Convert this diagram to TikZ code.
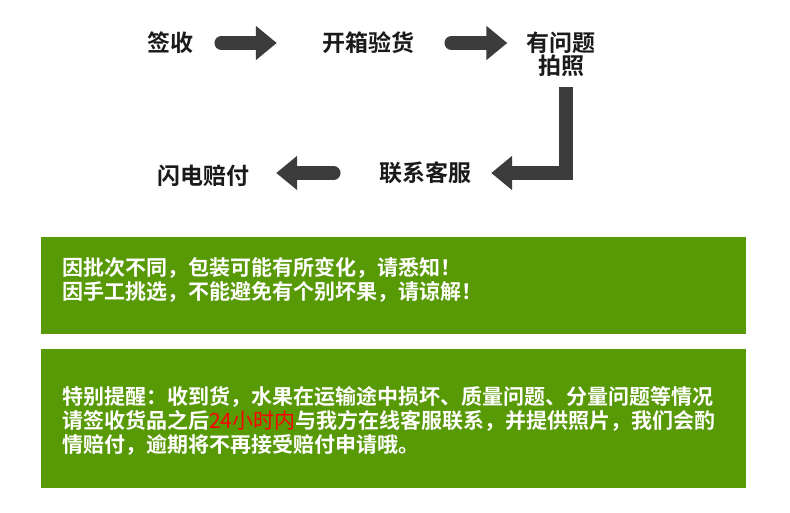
\documentclass[tikz,border=0pt]{standalone}
\usepackage{fontspec}
\newfontfamily\cjk{Noto Sans CJK SC}[BoldFont={Noto Sans CJK SC Bold}]
\usetikzlibrary{arrows.meta}
\definecolor{leafgreen}{RGB}{88,153,6}
\definecolor{arrowgray}{RGB}{60,60,60}
\definecolor{labelblack}{RGB}{26,26,26}

\begin{document}
\begin{tikzpicture}[x=1pt, y=-1pt,
    flowtext/.style={inner sep=0pt, text=labelblack, align=center,
        font=\cjk\bfseries\fontsize{23}{23}\selectfont},
    bigarrow/.style={draw=arrowgray, line width=13.5pt,
        -{Triangle[length=21pt,width=33pt]}},
    notetext/.style={anchor=west, inner sep=0pt, text=white, align=left,
        font=\cjk\bfseries\fontsize{21}{24}\selectfont}]
    \useasboundingbox (0,0) rectangle (790,513);

    % Steps of the flow
    \node[flowtext] (sign) at (170,43) {签收};
    \node[flowtext] (check) at (368,43) {开箱验货};
    \node[flowtext] (photo) at (561,54.5) {有问题\\拍照};
    \node[flowtext] (service) at (425,173) {联系客服};
    \node[flowtext] (flash) at (203,176) {闪电赔付};

    % Arrows between the steps
    \coordinate (drop) at (566,87);
    \draw[bigarrow, line cap=round, shorten <=28pt, shorten >=45pt] (sign.east) -- (check.west);
    \draw[bigarrow, line cap=round, shorten <=37pt, shorten >=19pt] (check.east) -- (check.east -| photo.west);
    \draw[bigarrow, line cap=butt, line join=miter, shorten >=20pt] (drop) |- (service);
    \draw[bigarrow, line cap=round, shorten <=45pt, shorten >=27pt] (service.west) -- (service.west -| flash.east);

    % Green notice boxes
    \fill[leafgreen] (41,237) rectangle (746,334);
    \fill[leafgreen] (41,349) rectangle (746,488);
    \node[notetext] (batch) at (62,280)
        {因批次不同，包装可能有所变化，请悉知！\\因手工挑选，不能避免有个别坏果，请谅解！};
    \node[notetext] (remind) at (62,421)
        {特别提醒：收到货，水果在运输途中损坏、质量问题、分量问题等情况\\
         请签收货品之后{\color{red}\mdseries 24小时内}与我方在线客服联系，并提供照片，我们会酌\\
         情赔付，逾期将不再接受赔付申请哦。};
\end{tikzpicture}
\end{document}
